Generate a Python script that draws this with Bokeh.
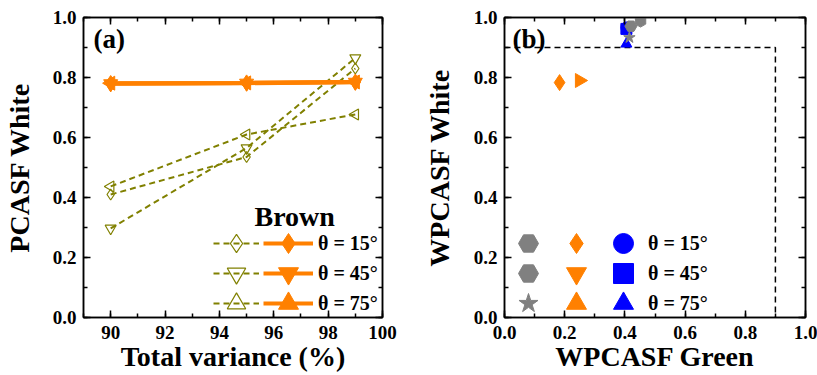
import numpy as np
from bokeh.plotting import figure
from bokeh.layouts import row
from bokeh.models import (Range1d, LinearAxis, SingleIntervalTicker, PrintfTickFormatter,
                          Legend, LegendItem, Label)
from bokeh.embed import file_html
from bokeh.resources import INLINE

FONT = "Liberation Serif"

# ---------------- data: panel (a) ----------------
variance = [90, 95, 99]
open_15 = [0.41, 0.535, 0.83]
open_45 = [0.297, 0.565, 0.865]
open_75 = [0.437, 0.61, 0.677]
filled_15 = [0.780, 0.782, 0.785]
filled_45 = [0.779, 0.781, 0.784]
filled_75 = [0.781, 0.782, 0.785]
theta_labels = ["θ = 15°", "θ = 45°", "θ = 75°"]
legend_title_a = "Brown"

# ---------------- data: panel (b) ----------------
gray_x = [0.452, 0.420, 0.415]
gray_y = [0.988, 0.971, 0.933]
orange_x = [0.183, 0.184, 0.249]
orange_y = [0.783, 0.781, 0.790]
blue_x = [0.405, 0.405, 0.405]
blue_y = [0.967, 0.962, 0.912]
threshold = 0.9

OLIVE = "#808000"
ORANGE = "#FF8000"
GRAY = "#808080"
BLUE = "#0000FF"

FIG_H = 375
B_TOP = 17
B_BOTTOM = 58


def style_axis(ax, labels=True):
    ax.major_tick_in = 7
    ax.major_tick_out = 0
    ax.minor_tick_in = 4
    ax.minor_tick_out = 0
    ax.axis_line_width = 1.5
    ax.axis_line_color = "black"
    ax.major_tick_line_width = 1.5
    ax.minor_tick_line_width = 1.5
    ax.major_tick_line_color = "black"
    ax.minor_tick_line_color = "black"
    ax.major_label_text_font = FONT
    ax.major_label_text_font_style = "bold"
    if labels:
        ax.major_label_text_font_size = "19px"
        ax.major_label_text_color = "black"
    else:
        ax.major_label_text_font_size = "1px"
        ax.major_label_text_color = None
        ax.major_label_standoff = 0
    ax.axis_label_text_font = FONT
    ax.axis_label_text_font_style = "bold"
    ax.axis_label_text_font_size = "28px"
    ax.axis_label_text_color = "black"


def make_fig(width, xr, xint, yint, xlabel, ylabel, bl, br):
    p = figure(width=width, height=FIG_H, x_range=Range1d(*xr), y_range=Range1d(0, 1),
               output_backend="svg", toolbar_location=None,
               min_border_left=bl, min_border_right=br,
               min_border_top=B_TOP, min_border_bottom=B_BOTTOM)
    p.grid.visible = False
    p.outline_line_color = "black"
    p.outline_line_width = 1.5
    p.background_fill_color = "white"
    p.border_fill_color = "white"
    fmt = PrintfTickFormatter(format="%.0f" if xint >= 1 else "%.1f")
    p.xaxis.ticker = SingleIntervalTicker(interval=xint, num_minor_ticks=2)
    p.xaxis.formatter = fmt
    p.yaxis.ticker = SingleIntervalTicker(interval=yint, num_minor_ticks=2)
    p.yaxis.formatter = PrintfTickFormatter(format="%.1f")
    p.xaxis.axis_label = xlabel
    p.yaxis.axis_label = ylabel
    for ax in p.xaxis + p.yaxis:
        style_axis(ax)
    p.xaxis.major_label_standoff = 8
    p.xaxis.axis_label_standoff = -1
    p.yaxis.major_label_standoff = 7
    p.yaxis.axis_label_standoff = 15
    top = LinearAxis(ticker=SingleIntervalTicker(interval=xint, num_minor_ticks=2))
    style_axis(top, labels=False)
    p.add_layout(top, "above")
    right = LinearAxis(ticker=SingleIntervalTicker(interval=yint, num_minor_ticks=2))
    style_axis(right, labels=False)
    p.add_layout(right, "right")
    return p


def row_legend(item, x, y, gw, standoff, fontsize):
    return Legend(items=[item], location=(x, y), glyph_width=gw, glyph_height=60, spacing=0,
                  padding=0, margin=0, border_line_color=None, background_fill_alpha=0,
                  label_standoff=standoff, label_text_font=FONT, label_text_font_style="bold",
                  label_text_font_size=fontsize, label_text_color="black", label_height=20,
                  label_width=10)


# legend rows (offset of each row's legend box from the frame bottom, in px)
ROW_Y = [44, 14, -16]

# ================= panel (a) =================
pa = make_fig(418, (89, 100), 2, 0.2, "Total variance (%)", "PCASF White", 82, 36)

open_series = [open_15, open_45, open_75]
filled_series = [filled_15, filled_45, filled_75]
markers = [("diamond", 0.0), ("inverted_triangle", 0.0), ("triangle", np.pi / 2)]
open_sizes = [11, 11, 11]
filled_sizes = [16, 14, 14]

for i, (ys, (mk, ang), sz) in enumerate(zip(open_series, markers, open_sizes)):
    ln = pa.line(variance, ys, line_color=OLIVE, line_width=2, line_dash="6 4")
    sc = pa.scatter(variance, ys, marker=mk, angle=ang, size=sz, fill_color="white",
                    fill_alpha=0, line_color=OLIVE, line_width=1.2)
    pa.add_layout(row_legend(LegendItem(label=" ", renderers=[ln, sc]), 130, ROW_Y[i], 46, 0, "2px"))
for i, (ys, (mk, ang), sz, lab) in enumerate(zip(filled_series, markers, filled_sizes, theta_labels)):
    ln = pa.line(variance, ys, line_color=ORANGE, line_width=4)
    sc = pa.scatter(variance, ys, marker=mk, angle=ang, size=sz, fill_color=ORANGE,
                    line_color=ORANGE)
    pa.add_layout(row_legend(LegendItem(label=lab, renderers=[ln, sc]), 180, ROW_Y[i], 50, 5, "20px"))

pa.add_layout(Label(x=171, y=101, x_units="screen", y_units="screen", text=legend_title_a,
                    text_font=FONT, text_font_style="bold", text_font_size="28px",
                    text_baseline="middle", text_color="black"))
pa.add_layout(Label(x=10, y=279, x_units="screen", y_units="screen", text="(a)",
                    text_font=FONT, text_font_style="bold", text_font_size="27px",
                    text_baseline="middle", text_color="black"))

# ================= panel (b) =================
pb = make_fig(399, (0, 1), 0.2, 0.2, "WPCASF Green", "WPCASF White", 86, 12)
pb.yaxis.axis_label_standoff = 16

pb.line([0, threshold, threshold], [threshold, threshold, 0], line_color="black",
        line_width=1.5, line_dash="6 4")

blue_markers = [("circle", 0.0), ("square", 0.0), ("triangle", 0.0)]
orange_markers = [("diamond", 0.0), ("inverted_triangle", 0.0), ("triangle", -np.pi / 2)]
orange_sizes = [16, 8, 14]
gray_markers = [("hex", np.pi / 2), ("hex", 0.0), ("star", 0.0)]

for i, (xv, yv, (mk, ang), lab) in enumerate(zip(blue_x, blue_y, blue_markers, theta_labels)):
    r = pb.scatter([xv], [yv], marker=mk, angle=ang, size=11, fill_color=BLUE, line_color=BLUE)
    pb.add_layout(row_legend(LegendItem(label=lab, renderers=[r]), 94, ROW_Y[i], 50, 0, "20px"))
# the 45° point lies under the 15° diamond: draw it first so the diamond stays on top
for i in [1, 0, 2]:
    mk, ang = orange_markers[i]
    r = pb.scatter([orange_x[i]], [orange_y[i]], marker=mk, angle=ang, size=orange_sizes[i],
                   fill_color=ORANGE, line_color=ORANGE)
    pb.add_layout(row_legend(LegendItem(label=" ", renderers=[r]), 47, ROW_Y[i], 50, 0, "2px"))
for i, (xv, yv, (mk, ang)) in enumerate(zip(gray_x, gray_y, gray_markers)):
    r = pb.scatter([xv], [yv], marker=mk, angle=ang, size=12, fill_color=GRAY, line_color=GRAY)
    pb.add_layout(row_legend(LegendItem(label=" ", renderers=[r]), -1, ROW_Y[i], 50, 0, "2px"))

pb.add_layout(Label(x=8, y=279, x_units="screen", y_units="screen", text="(b)",
                    text_font=FONT, text_font_style="bold", text_font_size="27px",
                    text_baseline="middle", text_color="black"))

layout = row(pa, pb)
open("out.html", "w").write(file_html(layout, INLINE))
